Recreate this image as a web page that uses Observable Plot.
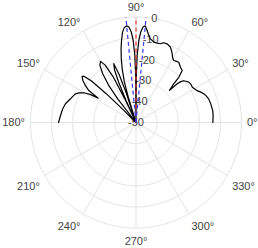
<!DOCTYPE html>
<html>
<head>
<meta charset="utf-8">
<script src="https://cdn.jsdelivr.net/npm/d3@7"></script>
<script src="https://cdn.jsdelivr.net/npm/@observablehq/plot@0.6"></script>
<style>
  html, body { margin: 0; padding: 0; background: #fff; }
  #chart svg { display: block; }
</style>
</head>
<body>
<div id="chart"></div>
<script>
// Pattern: angle (degrees, 0 = right, counter-clockwise) and gain (dB)
const angle = [
  0, 5, 9, 14, 18, 21, 23, 25.5, 27.5, 30, 32, 35, 37.5, 39.5, 41.3, 42.5, 43.2, 43.8, 44.5, 45.2,
  45.7, 46.6, 48.4, 51.2, 54.6, 57, 58.6, 60.5, 62.2, 64, 65.4, 68.4, 70.8, 72.7, 75, 77.5,
  80.2, 81.6, 83.1, 84.5, 85.8, 87, 88, 89, 89.6, 90, 90.4, 91, 92, 93, 94.2, 95.5, 97, 98.5,
  100, 101.5, 103, 104.5, 106, 107, 107.5, 108.3, 109.3, 110.7, 112.2, 113.3, 114.2, 114.7,
  115.3, 116.5, 118.3, 120.2, 122.3, 124.3, 126.3, 127.8, 128.8, 134.5, 135.2, 136, 137,
  138.5, 139.5, 141.7, 144, 145.9, 147.2, 148.5, 150.4, 152.6, 154.6, 157, 160.1, 165.1, 170,
  174.7, 180
];
const gain = [
  -13.6, -13.3, -13.2, -13.5, -13.8, -14.5, -15.1, -16.3, -17.3, -18.0, -18.5, -18.3, -18.6, -19.3, -20.0, -21.5, -23.2, -28.0, -27.0, -25.5,
  -24.4, -20.5, -17.0, -16.4, -15.0, -15.3, -15.6, -14.8, -13.2, -11.8, -10.8, -9.9, -10.0, -10.9, -11.1, -11.0,
  -9.8, -8.3, -6.1, -4.0, -4.6, -7, -11, -18, -28, -50, -28, -18, -11, -7, -4.6, -4.0, -4.6, -6.8,
  -10.5, -14.5, -19, -24, -30, -38, -50, -35, -26, -20.2, -23, -29, -38, -50,
  -38, -26, -19, -16.5, -18, -22, -28, -36, -50, -50, -40, -30, -21,
  -17, -16.4, -17.9, -20.5, -23, -28.7, -24.5, -21.5, -19.5, -18.3, -17.7, -17, -15.4, -14.6,
  -14.1, -13.3
];
// steering / beam markers
const steerAngles = [90];
const beamAngles = [84.5, 95.5];
// axes
const ringValues = [0, -10, -20, -30, -40];
const radialTicks = [0, -10, -20, -30, -40, -50];
const radialTickLabels = ["0", "-10", "-20", "-30", "-40", "-50"];
const radialLabelAngle = 80;
const spokeAngles = [0, 30, 60, 90, 120, 150, 180, 210, 240, 270, 300, 330];
const angleTickLabels = ["0°", "30°", "60°", "90°", "120°", "150°", "180°", "210°", "240°", "270°", "300°", "330°"];
const dbMin = -50, dbMax = 0;

// polar -> spherical coordinates for an azimuthal projection centred on the pole
const SPAN = 5; // degrees of colatitude for the full radial range
const lon = (t) => t + 90;
const lat = (db) => 90 - (Math.max(db, dbMin) - dbMin) / (dbMax - dbMin) * SPAN;
const rad = (db) => (Math.max(db, dbMin) - dbMin) / (dbMax - dbMin) * SPAN;

const pattern = angle.map((a, i) => ({a, g: gain[i]}));
const labelDb = 2.6;
const lbl = spokeAngles.map((a, i) => ({a, text: angleTickLabels[i]}));
const cosA = (a) => Math.cos(a * Math.PI / 180), sinA = (a) => Math.sin(a * Math.PI / 180);
const hAnchor = (a) => cosA(a) > 0.1 ? "start" : cosA(a) < -0.1 ? "end" : "middle";
const vAnchor = (a) => sinA(a) > 0.1 ? "bottom" : sinA(a) < -0.1 ? "top" : "middle";
const labelMarks = [];
for (const h of ["start", "middle", "end"]) for (const v of ["top", "middle", "bottom"]) {
  const sub = lbl.filter(d => hAnchor(d.a) === h && vAnchor(d.a) === v);
  if (sub.length) labelMarks.push(Plot.text(sub, {
    x: d => lon(d.a), y: () => lat(labelDb), text: "text",
    textAnchor: h, lineAnchor: v, dy: v === "top" ? 4 : 0, fill: "#444", fontSize: 11
  }));
}

const chart = Plot.plot({
  width: 258,
  height: 248,
  marginTop: 16.5,
  marginBottom: 20.5,
  marginLeft: 30,
  marginRight: 17,
  style: {fontFamily: "'Liberation Sans', Arial, Helvetica, sans-serif", fontSize: "11px", background: "#fff"},
  projection: {
    type: "azimuthal-equidistant",
    rotate: [0, -90],
    clip: false,
    domain: d3.geoCircle().center([0, 90]).radius(SPAN)()
  },
  marks: [
    Plot.geo(ringValues, {
      geometry: (d) => d3.geoCircle().center([0, 90]).radius(rad(d)).precision(1)(),
      stroke: "#e3e3e3", strokeWidth: 1, fill: "none"
    }),
    Plot.link(spokeAngles, {
      x1: (a) => lon(a), y1: 90, x2: (a) => lon(a), y2: lat(dbMax),
      stroke: "#e3e3e3", strokeWidth: 1
    }),
    ...labelMarks,
    Plot.text(radialTicks, {
      x: () => lon(radialLabelAngle), y: (d) => lat(d),
      text: (d, i) => radialTickLabels[i],
      textAnchor: "middle", lineAnchor: "middle", fill: "#444", fontSize: 11
    }),
    Plot.line(pattern, {
      x: (d) => lon(d.a), y: (d) => lat(d.g),
      stroke: "black", strokeWidth: 1.2
    }),
    Plot.link(steerAngles, {
      x1: (a) => lon(a), y1: 90, x2: (a) => lon(a), y2: lat(dbMax),
      stroke: "#e8302f", strokeWidth: 1.2, strokeDasharray: "4,3"
    }),
    Plot.link(beamAngles, {
      x1: (a) => lon(a), y1: 90, x2: (a) => lon(a), y2: lat(dbMax),
      stroke: "#3a3af0", strokeWidth: 1.2, strokeDasharray: "4,3"
    })
  ]
});
document.getElementById("chart").appendChild(chart);
</script>
</body>
</html>
